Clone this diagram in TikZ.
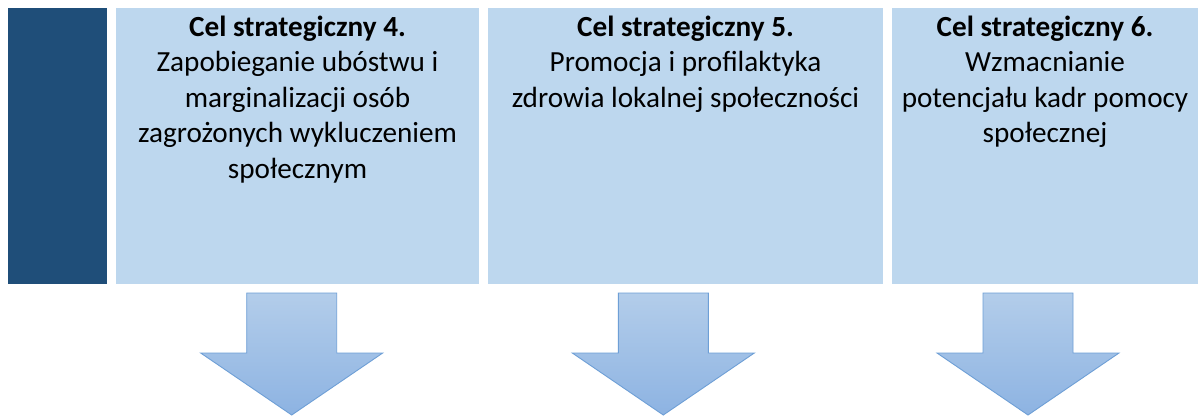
\documentclass[tikz,border=0pt]{standalone}
\usepackage{fontspec}
\setmainfont{Carlito}
\definecolor{darkblue}{HTML}{1F4E79}
\definecolor{lightblue}{HTML}{BDD7EE}
\definecolor{arrtop}{HTML}{B3CDEA}
\definecolor{arrbot}{HTML}{8DB3E2}
\definecolor{arredge}{HTML}{6E9FD6}
\begin{document}
\begin{tikzpicture}[x=1pt,y=-1pt,
  goalbox/.style={fill=lightblue, draw=none},
  goaltext/.style={anchor=north, align=center, inner sep=0pt, font=\fontsize{29.2}{35.6}\selectfont, text=black},
  downarrow/.style={top color=arrtop, bottom color=arrbot, draw=arredge, line width=0.9pt, line join=miter}]
\useasboundingbox[fill=white] (0,0) rectangle (1198,416);
\fill[darkblue] (8,8) rectangle (107,284);
\fill[goalbox] (116,8) rectangle (479,284);
\fill[goalbox] (488,8) rectangle (883,284);
\fill[goalbox] (892,8) rectangle (1198,284);
\node[goaltext] (t4) at (297.5,15.5) {\textbf{Cel strategiczny 4.}\\Zapobieganie ubóstwu i\\marginalizacji osób\\zagrożonych wykluczeniem\\społecznym};
\node[goaltext] (t5) at (685.5,15.5) {\textbf{Cel strategiczny 5.}\\Promocja i profilaktyka\\zdrowia lokalnej społeczności};
\node[goaltext] (t6) at (1045,15.5) {\textbf{Cel strategiczny 6.}\\Wzmacnianie\\potencjału kadr pomocy\\społecznej};
\foreach \cx in {291.7,663.3,1028}{
  \path[downarrow] (\cx-45,293) -- (\cx+45,293) -- (\cx+45,353) -- (\cx+91,353) -- (\cx,415) -- (\cx-91,353) -- (\cx-45,353) -- cycle;
}
\end{tikzpicture}
\end{document}
